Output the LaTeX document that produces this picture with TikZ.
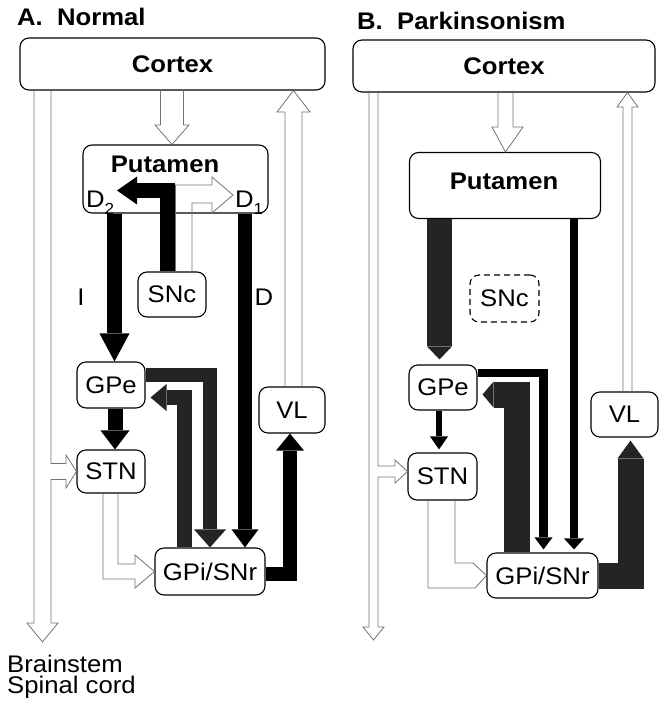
\documentclass[tikz,border=0pt]{standalone}
\usepackage{fontspec}
\setmainfont{Liberation Sans}[FakeStretch=1.07]
\usetikzlibrary{arrows.meta}
\newcommand\labfont{\fontsize{24}{21}\selectfont}
\newcommand\boldlabfont{\fontsize{24}{26}\selectfont\bfseries}
\newcommand\subfont{\fontsize{16}{16}\selectfont}
\begin{document}
\begin{tikzpicture}[x=1pt,y=-1pt,
  nbox/.style={draw, line width=1.1pt, rounded corners=9pt, inner sep=0pt, font=\labfont},
  hollow/.style={draw=black!55, line width=0.8pt, line join=miter},
  bar/.style={draw=black, line join=miter, line cap=butt},
  mot/.style={draw=black!86},
  txt/.style={font=\labfont, inner sep=0pt},
]
\useasboundingbox (0,0) rectangle (660,702);

% ---------------- Panel A ----------------
\node[txt, font=\boldlabfont, anchor=base west] (titleA) at (17,25) {A.\ \ Normal};
\node[nbox, font=\boldlabfont, minimum width=305pt, minimum height=52pt] (cortexA) at (172.5,64) {Cortex};
\node[nbox, minimum width=185pt, minimum height=68pt] (putA) at (175.5,179) {};
\node[txt, font=\boldlabfont] (putAt) at (165,164) {Putamen};
\node[txt, anchor=base west] (d2) at (86,207) {D\raisebox{-7pt}{\subfont 2}};
\node[txt, anchor=base west] (d1) at (235,207) {D\raisebox{-7pt}{\subfont 1}};
\node[nbox, minimum width=68pt, minimum height=45pt] (sncA) at (172,294.5) {SNc};
\node[nbox, minimum width=68pt, minimum height=46pt] (gpeA) at (111,385) {GPe};
\node[nbox, minimum width=68pt, minimum height=43pt] (stnA) at (111,471.5) {STN};
\node[nbox, minimum width=110pt, minimum height=47pt] (gpiA) at (210,571.5) {GPi/SNr};
\node[nbox, minimum width=66pt, minimum height=46pt] (vlA) at (292,410) {VL};
\node[txt] (lblI) at (81,297) {I};
\node[txt] (lblD) at (264,297) {D};
\node[txt, anchor=base west, align=left] (bs) at (7,693) {Brainstem\\Spinal cord};

\coordinate (d2tip) at (117,190.5);
\coordinate (d1tip) at (233,195);
\coordinate (bsA) at (42.5,642);

% hollow connectors A
\draw[hollow] (cortexA.south -| 160.5,0) -- (160.5,125) -- (155,125) -- (putA.north -| 172,0) -- (189,125) -- (183.5,125) -- (cortexA.south -| 183.5,0);
\draw[hollow] (vlA.north -| 285,0) -- (285,112) -- (277,112) -- (cortexA.south -| 293.5,0) -- (310,112) -- (302,112) -- (vlA.north -| 302,0);
\draw[hollow] (cortexA.south -| 34,0) -- (34,623) -- (27,623) -- (bsA) -- (58,623) -- (51,623) -- (51,479.5) -- (66,479.5) -- (66,488) -- (stnA.west) -- (66,455) -- (66,463.5) -- (51,463.5) -- (cortexA.south -| 51,0);
\draw[hollow] (stnA.south -| 103,0) -- (103,579) -- (135,579) -- (135,588) -- (gpiA.west) -- (135,555) -- (135,564) -- (118,564) -- (stnA.south -| 118,0);
\draw[hollow] (sncA.north -| 175.5,0) -- (175.5,185) -- (212,185) -- (212,177) -- (d1tip) -- (212,213) -- (212,203) -- (192,203) -- (sncA.north -| 192,0);

% thick connectors A
\draw[bar, line width=15pt, -{Triangle[width=28pt,length=20pt,line width=0pt]}] (sncA.north -| 167.5,0) -- (167.5,190.5) -- (d2tip);
\draw[bar, line width=15pt, -{Triangle[width=30pt,length=28pt,line width=0pt]}] (putA.south -| 114.5,0) -- (gpeA.north -| 114.5,0);
\draw[bar, line width=14pt, -{Triangle[width=27pt,length=18pt,line width=0pt]}] (putA.south -| 245,0) -- (gpiA.north -| 245,0);
\draw[bar, line width=15pt, -{Triangle[width=29pt,length=19pt,line width=0pt]}] (gpeA.south -| 115,0) -- (stnA.north -| 115,0);
\draw[bar, mot, line width=14pt, -{Triangle[width=32pt,length=18pt,line width=0pt]}] (gpeA.east |- 0,375) -- (210,375) -- (gpiA.north -| 210,0);
\draw[bar, mot, line width=15pt, -{Triangle[width=27pt,length=16pt,line width=0pt]}, shorten >=5pt] (gpiA.north -| 184.5,0) -- (184.5,397.5) -- (gpeA.east |- 0,397.5);
\draw[bar, line width=14pt, -{Triangle[width=28pt,length=17pt,line width=0pt]}] (gpiA.east |- 0,573.5) -- (290,573.5) -- (vlA.south -| 290,0);

% ---------------- Panel B ----------------
\node[txt, font=\boldlabfont, anchor=base west] (titleB) at (357,29) {B.\ \ Parkinsonism};
\node[nbox, font=\boldlabfont, minimum width=302pt, minimum height=52pt] (cortexB) at (504,66) {Cortex};
\node[nbox, minimum width=191pt, minimum height=66pt] (putB) at (505,185.5) {};
\node[txt, font=\boldlabfont] (putBt) at (504,181) {Putamen};
\node[nbox, dash pattern=on 6pt off 4pt, minimum width=69pt, minimum height=47pt] (sncB) at (504.5,298.5) {SNc};
\node[nbox, minimum width=68pt, minimum height=45pt] (gpeB) at (443,387.5) {GPe};
\node[nbox, minimum width=69pt, minimum height=47pt] (stnB) at (442.5,476.5) {STN};
\node[nbox, minimum width=111pt, minimum height=45pt] (gpiB) at (542.5,575.5) {GPi/SNr};
\node[nbox, minimum width=67pt, minimum height=45pt] (vlB) at (624.5,414.5) {VL};

\coordinate (bsB) at (373.5,640);

% hollow connectors B
\draw[hollow] (cortexB.south -| 498,0) -- (498,127) -- (492,127) -- (putB.north -| 505.5,0) -- (523,127) -- (513,127) -- (cortexB.south -| 513,0);
\draw[hollow] (vlB.north -| 623,0) -- (623,107) -- (617,107) -- (cortexB.south -| 627.5,0) -- (638,107) -- (632,107) -- (vlB.north -| 632,0);
\draw[hollow] (cortexB.south -| 369,0) -- (369,627) -- (363,627) -- (bsB) -- (384,627) -- (378,627) -- (378,477) -- (395,477) -- (395,483) -- (stnB.west |- 0,471.5) -- (395,460) -- (395,466) -- (378,466) -- (cortexB.south -| 378,0);
\draw[hollow] (stnB.south -| 428,0) -- (428,588) -- (475,588) -- (gpiB.west) -- (473,563) -- (455,563) -- (stnB.south -| 455,0);

% thick connectors B
\draw[bar, mot, line width=25pt, -{Triangle[width=25pt,length=13pt,line width=0pt]}, shorten >=5pt] (putB.south -| 439.5,0) -- (gpeB.north -| 439.5,0);
\draw[bar, line width=8pt, -{Triangle[width=20pt,length=11pt,line width=0pt]}, shorten >=3pt] (putB.south -| 574,0) -- (gpiB.north -| 574,0);
\draw[bar, line width=8.5pt, -{Triangle[width=18pt,length=12pt,line width=0pt]}, shorten >=3pt] (gpeB.east |- 0,373) -- (543.5,373) -- (gpiB.north -| 543.5,0);
\draw[bar, mot, line width=26pt, -{Triangle[width=26pt,length=11pt,line width=0pt]}, shorten >=5pt] (gpiB.north -| 516.5,0) -- (516.5,394.5) -- (gpeB.east |- 0,394.5);
\draw[bar, line width=6.5pt, -{Triangle[width=18pt,length=13pt,line width=0pt]}, shorten >=3pt] (gpeB.south -| 439,0) -- (stnB.north -| 439,0);
\draw[bar, mot, line width=26pt, -{Triangle[width=26pt,length=18pt,line width=0pt]}, shorten >=3pt] (gpiB.east |- 0,576) -- (630.5,576) -- (vlB.south -| 630.5,0);
\end{tikzpicture}
\end{document}
